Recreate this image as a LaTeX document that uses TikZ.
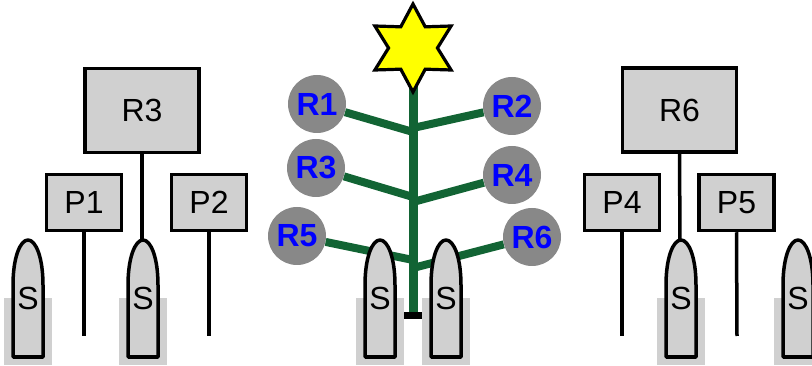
\documentclass[tikz,border=0pt]{standalone}
\usepackage{fontspec}
\setmainfont{Liberation Sans}
\usetikzlibrary{shapes.geometric}
\definecolor{boxgray}{RGB}{208,208,208}
\definecolor{ballgray}{RGB}{136,136,136}
\definecolor{treegreen}{RGB}{18,100,52}
\definecolor{staryellow}{RGB}{255,255,0}
\tikzset{
  lbl/.style={font=\fontsize{32}{32}\selectfont, inner sep=0pt},
  boxnode/.style={draw=black, line width=3.5pt, fill=boxgray, lbl},
  bigbox/.style={boxnode, minimum width=114pt, minimum height=84pt},
  smallbox/.style={boxnode, minimum width=75pt, minimum height=56pt},
  wire/.style={line width=3.5pt, black},
  ball/.style={circle, fill=ballgray, minimum size=58pt, inner sep=0pt, text=blue,
    font=\bfseries\fontsize{32}{32}\selectfont},
  branch/.style={line width=8pt, treegreen},
  trunk/.style={line width=9pt, treegreen},
  bullet/.pic={
    \fill[boxgray] (-24,298) rectangle (24,365);
    \draw[line width=3.5pt, fill=boxgray, line join=round]
      (-15,357) -- (-15,285) .. controls (-15,258) and (-8,240) .. (0,240)
      .. controls (8,240) and (15,258) .. (15,285) -- (15,357) -- cycle;
    \node[lbl] (-lab) at (0,298) {S};
    \coordinate (-top) at (0,240);
  }
}
\begin{document}
\begin{tikzpicture}[x=1pt,y=-1pt]
  \useasboundingbox (0,0) rectangle (812,366);
  \clip (0,0) rectangle (812,366);

  % tree
  \node[ball] (c1) at (317,104) {R1};
  \node[ball] (c2) at (512,106) {R2};
  \node[ball] (c3) at (316,168) {R3};
  \node[ball] (c4) at (512,175) {R4};
  \node[ball] (c5) at (297,236) {R5};
  \node[ball] (c6) at (532,237) {R6};
  \node[fill=black, minimum width=18pt, minimum height=7pt, inner sep=0pt] (base) at (413,315.5) {};
  \coordinate (trunktop) at (413,80);
  \coordinate (jl1) at (413,132);
  \coordinate (jr1) at (413,128);
  \coordinate (jl2) at (413,197);
  \coordinate (jr2) at (413,202);
  \coordinate (jl3) at (413,260);
  \coordinate (jr3) at (413,268);
  \draw[trunk] (trunktop) -- (base.north);
  \node[star, star points=6, star point ratio=1.8, minimum size=88pt, inner sep=0pt,
        draw=black, line width=3.2pt, fill=staryellow] (star) at (413,48) {};
  \draw[branch] (c1) -- (jl1);
  \draw[branch] (c2) -- (jr1);
  \draw[branch] (c3) -- (jl2);
  \draw[branch] (c4) -- (jr2);
  \draw[branch] (c5) -- (jl3);
  \draw[branch] (c6) -- (jr3);
  \pic (sC) at (380,0) {bullet};
  \pic (sD) at (446,0) {bullet};

  % left group
  \node[bigbox] (bR3) at (142,110.5) {R3};
  \node[smallbox] (bP1) at (84,202.5) {P1};
  \node[smallbox] (bP2) at (209,202.5) {P2};
  \coordinate (p1end) at (84,336);
  \coordinate (p2end) at (209,336);
  \draw[wire] (bP1.south) -- (p1end);
  \draw[wire] (bP2.south) -- (p2end);
  \coordinate (sBtop) at (142,240);
  \draw[wire] (bR3.south) -- (sBtop);
  \pic (sA) at (28,0) {bullet};
  \pic (sB) at (143,0) {bullet};

  % right group
  \node[bigbox] (bR6) at (679.5,110) {R6};
  \node[smallbox] (bP4) at (622,202.5) {P4};
  \node[smallbox] (bP5) at (736.5,202.5) {P5};
  \coordinate (p4end) at (622,336);
  \coordinate (p5end) at (737,336);
  \draw[wire] (bP4.south) -- (p4end);
  \draw[wire] (bP5.south) -- (p5end);
  \coordinate (sEtop) at (680,240);
  \draw[wire] (bR6.south) -- (sEtop);
  \pic (sE) at (681,0) {bullet};
  \pic (sF) at (798,0) {bullet};
\end{tikzpicture}
\end{document}
